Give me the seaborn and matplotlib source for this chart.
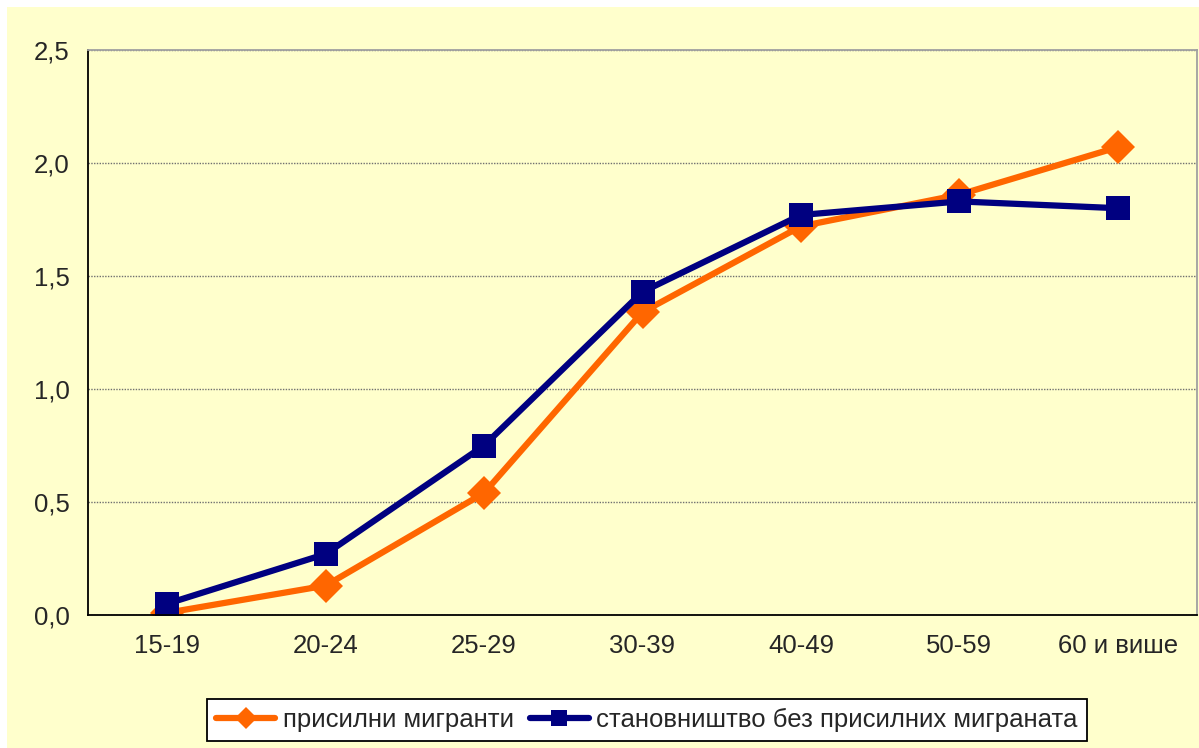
import numpy as np
import pandas as pd
import matplotlib.pyplot as plt
import matplotlib.ticker as mticker
from matplotlib.patches import Rectangle
import seaborn as sns

# Data
age_groups = ["15-19", "20-24", "25-29", "30-39", "40-49", "50-59", "60 и више"]
forced_migrants = [0.01, 0.13, 0.54, 1.34, 1.72, 1.86, 2.07]
population_without = [0.05, 0.27, 0.75, 1.43, 1.77, 1.83, 1.80]
label_forced = "присилни мигранти"
label_without = "становништво без присилних миграната"

df = pd.DataFrame({
    "age": age_groups * 2,
    "value": forced_migrants + population_without,
    "group": [label_forced] * len(age_groups) + [label_without] * len(age_groups),
})

sns.set_style("white")
plt.rcParams["font.family"] = ["Liberation Sans", "DejaVu Sans"]

yellow = "#FFFFCC"
fig = plt.figure(figsize=(11.99, 7.48), dpi=100)
fig.patch.set_facecolor("white")
fig.add_artist(Rectangle((7 / 1199, 0), 1, (748 - 7) / 748, transform=fig.transFigure,
                         facecolor=yellow, edgecolor="none", zorder=-10))

ax = fig.add_axes([88 / 1199, (748 - 615) / 748, (1197 - 88) / 1199, (615 - 50) / 748])
ax.set_facecolor(yellow)

sns.lineplot(data=df, x="age", y="value", hue="group", style="group",
             palette={label_forced: "#FF6600", label_without: "#000080"},
             markers={label_forced: "D", label_without: "s"}, dashes=False,
             sort=False, linewidth=4.5, markersize=17, markeredgewidth=0,
             ax=ax)

ax.set_xlim(-0.5, len(age_groups) - 0.5)
ax.set_ylim(0, 2.5)
ax.yaxis.set_major_locator(mticker.MultipleLocator(0.5))
ax.yaxis.set_major_formatter(mticker.FuncFormatter(lambda v, p: f"{v:.1f}".replace(".", ",")))
ax.set_xticks(range(len(age_groups)))
ax.set_xticklabels(age_groups)
ax.set_xticks(np.arange(-0.5, len(age_groups), 1), minor=True)
ax.tick_params(axis="x", which="major", length=0, pad=14, labelsize=18.5)
ax.tick_params(axis="x", which="minor", length=7, width=1.3, direction="out", color="black")
ax.tick_params(axis="y", length=7, width=1.3, direction="out", color="black", labelsize=18.5, pad=6)
ax.set_xlabel("")
ax.set_ylabel("")

ax.grid(axis="y", color="#707070", linestyle=(0, (1, 1)), linewidth=1.0)
ax.set_axisbelow(True)
for side in ["left", "bottom"]:
    ax.spines[side].set_color("black")
    ax.spines[side].set_linewidth(1.3)
for side in ["top", "right"]:
    ax.spines[side].set_color("#A0A0A0")
    ax.spines[side].set_linewidth(1.3)

ax.legend_.remove()
handles, labels = ax.get_legend_handles_labels()
leg = fig.legend(handles, labels, loc="center", bbox_to_anchor=(647 / 1199, (748 - 720) / 748),
                 ncol=2, fontsize=18.5, frameon=True, fancybox=False, edgecolor="black",
                 facecolor="white", framealpha=1, handlelength=2.3, handletextpad=0.3,
                 columnspacing=0.6, borderpad=0.35, markerscale=0.65)
leg.get_frame().set_linewidth(1.3)

fig.savefig("out.png", dpi=100, facecolor=fig.get_facecolor())
